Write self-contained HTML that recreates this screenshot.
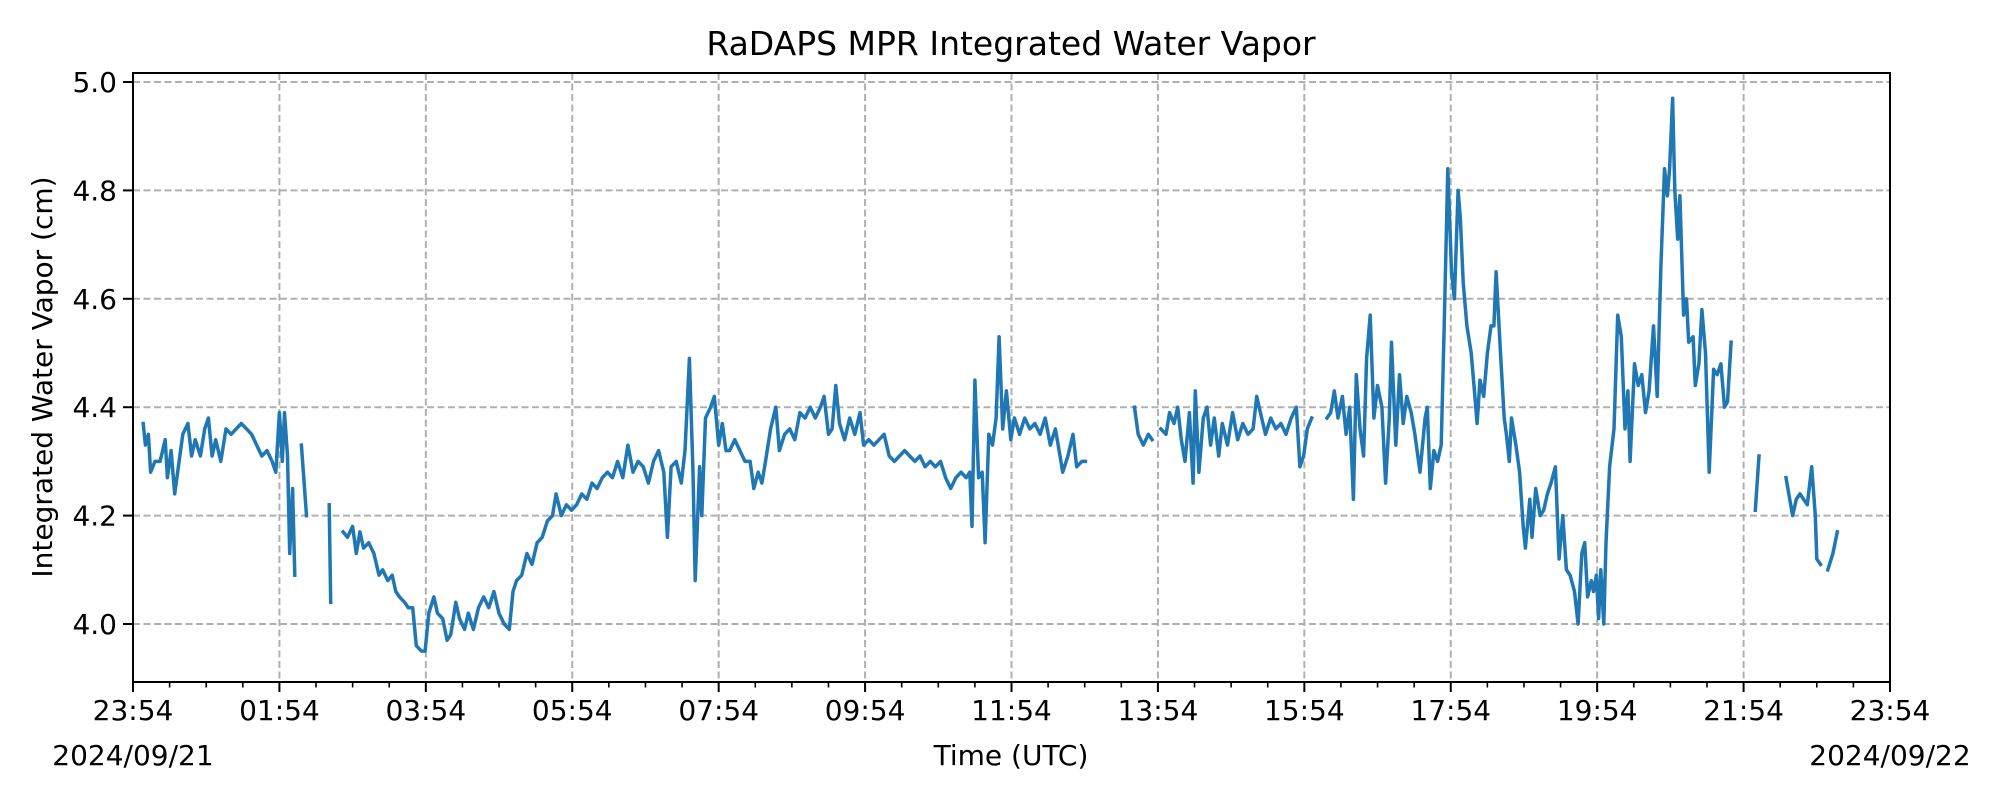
<!DOCTYPE html>
<html><head><meta charset="utf-8">
<style>
html,body{margin:0;padding:0;background:#fff;}
svg{display:block;font-family:"DejaVu Sans","Liberation Sans",sans-serif;}
</style></head>
<body>
<svg id="chart" width="2000" height="800" viewBox="0 0 2000 800" xmlns="http://www.w3.org/2000/svg">
<rect width="2000" height="800" fill="#fff"/>
<text x="1011" y="55" font-size="33" text-anchor="middle">RaDAPS MPR Integrated Water Vapor</text>
<g id="grid"></g>
<g id="series"></g>
<rect x="133" y="73" width="1757" height="609" fill="none" stroke="#000" stroke-width="2"/>
<g id="axes"></g>
<text x="1011" y="765" font-size="28" text-anchor="middle">Time (UTC)</text>
<text x="133" y="765" font-size="28" text-anchor="middle">2024/09/21</text>
<text x="1890" y="765" font-size="28" text-anchor="middle">2024/09/22</text>
<text transform="translate(52,377) rotate(-90)" font-size="28" text-anchor="middle">Integrated Water Vapor (cm)</text>
</svg>
<script>
const xTickLabels = ["23:54","01:54","03:54","05:54","07:54","09:54","11:54","13:54","15:54","17:54","19:54","21:54","23:54"];
const yTicks = [4.0,4.2,4.4,4.6,4.8,5.0];
const yTickLabels = ["4.0","4.2","4.4","4.6","4.8","5.0"];
// hours since 23:54, null = gap
const times = [0.14,0.17,0.21,0.24,0.30,0.37,0.44,0.47,0.52,0.57,0.63,0.68,0.75,0.80,0.85,0.92,0.98,1.03,1.08,1.13,1.20,1.27,1.34,1.41,1.48,1.55,1.62,1.69,1.76,1.83,1.90,1.95,2.00,2.04,2.07,2.11,2.14,2.18,2.21,null,
2.30,2.37,null,2.68,2.70,null,
2.87,2.93,3.00,3.05,3.10,3.15,3.22,3.29,3.36,3.41,3.48,3.54,3.59,3.64,3.71,3.76,3.82,3.87,3.94,3.99,4.04,4.11,4.16,4.23,4.29,4.34,4.41,4.46,4.53,4.58,4.65,4.72,4.79,4.86,4.93,5.00,5.07,5.14,5.19,5.24,5.31,5.38,5.45,5.52,5.59,5.66,5.73,5.78,5.85,5.92,5.99,6.06,6.13,6.20,6.27,6.34,6.41,6.48,6.55,6.62,6.69,6.76,6.83,6.90,6.97,7.04,7.11,7.18,7.25,7.30,7.35,7.42,7.49,7.54,7.60,7.65,7.68,7.74,7.77,7.82,7.89,7.94,8.00,8.05,8.10,8.15,8.22,8.29,8.36,8.43,8.48,8.54,8.59,8.64,8.71,8.78,8.83,8.90,8.97,9.04,9.11,9.18,9.25,9.32,9.39,9.44,9.50,9.55,9.60,9.65,9.72,9.79,9.86,9.93,9.98,10.05,10.12,10.19,10.26,10.33,10.40,10.47,10.54,10.61,10.68,10.75,10.82,10.89,10.96,11.03,11.10,11.17,11.24,11.31,11.38,11.43,11.46,11.50,11.55,11.60,11.64,11.69,11.74,11.79,11.83,11.88,11.93,11.99,12.04,12.11,12.18,12.25,12.32,12.39,12.46,12.53,12.60,12.65,12.70,12.77,12.84,12.89,12.96,13.01,null,
13.68,13.73,13.80,13.87,13.92,null,
14.04,14.11,14.16,14.22,14.27,14.32,14.37,14.43,14.48,14.51,14.56,14.62,14.67,14.72,14.77,14.83,14.88,14.95,15.02,15.09,15.16,15.23,15.30,15.35,15.40,15.47,15.54,15.61,15.68,15.75,15.82,15.89,15.94,15.99,16.04,16.10,null,
16.31,16.36,16.41,16.46,16.52,16.57,16.62,16.67,16.71,16.76,16.81,16.85,16.90,16.95,17.00,17.06,17.11,17.16,17.19,17.25,17.30,17.35,17.40,17.46,17.51,17.58,17.65,17.68,17.72,17.77,17.82,17.87,17.91,17.96,18.01,18.05,18.10,18.13,18.17,18.22,18.28,18.33,18.36,18.40,18.45,18.50,18.55,18.59,18.62,18.68,18.73,18.76,18.80,18.83,18.89,18.94,18.99,19.02,19.08,19.11,19.16,19.22,19.27,19.32,19.37,19.43,19.48,19.53,19.58,19.63,19.69,19.74,19.79,19.83,19.87,19.92,19.95,19.99,20.02,20.05,20.09,20.12,20.17,20.23,20.28,20.33,20.38,20.42,20.45,20.51,20.56,20.61,20.66,20.71,20.77,20.82,20.87,20.92,20.96,20.99,21.03,21.06,21.10,21.13,21.18,21.22,21.25,21.31,21.34,21.39,21.43,21.48,21.53,21.59,21.64,21.69,21.74,21.78,21.83,null,
22.16,22.21,null,
22.58,22.67,22.72,22.77,22.82,22.87,22.93,22.98,23.00,23.05,null,
23.15,23.22,23.28];
const values = [4.37,4.33,4.35,4.28,4.30,4.30,4.34,4.27,4.32,4.24,4.30,4.35,4.37,4.31,4.34,4.31,4.36,4.38,4.31,4.34,4.30,4.36,4.35,4.36,4.37,4.36,4.35,4.33,4.31,4.32,4.30,4.28,4.39,4.30,4.39,4.31,4.13,4.25,4.09,null,
4.33,4.20,null,4.22,4.04,null,
4.17,4.16,4.18,4.13,4.17,4.14,4.15,4.13,4.09,4.10,4.08,4.09,4.06,4.05,4.04,4.03,4.03,3.96,3.95,3.95,4.02,4.05,4.02,4.01,3.97,3.98,4.04,4.01,3.99,4.02,3.99,4.03,4.05,4.03,4.06,4.02,4.00,3.99,4.06,4.08,4.09,4.13,4.11,4.15,4.16,4.19,4.20,4.24,4.20,4.22,4.21,4.22,4.24,4.23,4.26,4.25,4.27,4.28,4.27,4.30,4.27,4.33,4.28,4.30,4.29,4.26,4.30,4.32,4.28,4.16,4.29,4.30,4.26,4.32,4.49,4.28,4.08,4.29,4.20,4.38,4.40,4.42,4.33,4.37,4.32,4.32,4.34,4.32,4.30,4.30,4.25,4.28,4.26,4.30,4.36,4.40,4.32,4.35,4.36,4.34,4.39,4.38,4.40,4.38,4.40,4.42,4.35,4.36,4.44,4.37,4.34,4.38,4.35,4.39,4.33,4.34,4.33,4.34,4.35,4.31,4.30,4.31,4.32,4.31,4.30,4.31,4.29,4.30,4.29,4.30,4.27,4.25,4.27,4.28,4.27,4.28,4.18,4.45,4.27,4.28,4.15,4.35,4.33,4.38,4.53,4.36,4.43,4.34,4.38,4.35,4.38,4.36,4.37,4.35,4.38,4.33,4.36,4.32,4.28,4.31,4.35,4.29,4.30,4.30,null,
4.40,4.35,4.33,4.35,4.34,null,
4.36,4.35,4.39,4.37,4.40,4.34,4.30,4.39,4.26,4.43,4.28,4.38,4.40,4.33,4.38,4.31,4.37,4.33,4.39,4.34,4.37,4.35,4.36,4.42,4.39,4.35,4.38,4.36,4.37,4.35,4.38,4.40,4.29,4.31,4.36,4.38,null,
4.38,4.39,4.43,4.38,4.42,4.35,4.40,4.23,4.46,4.36,4.31,4.49,4.57,4.38,4.44,4.40,4.26,4.38,4.52,4.33,4.46,4.37,4.42,4.39,4.35,4.28,4.38,4.40,4.25,4.32,4.30,4.33,4.55,4.84,4.65,4.60,4.80,4.75,4.63,4.55,4.50,4.42,4.37,4.45,4.42,4.50,4.55,4.55,4.65,4.50,4.38,4.35,4.30,4.38,4.33,4.28,4.18,4.14,4.23,4.16,4.25,4.20,4.21,4.24,4.26,4.29,4.12,4.20,4.10,4.09,4.06,4.00,4.13,4.15,4.05,4.08,4.06,4.09,4.01,4.10,4.00,4.15,4.29,4.36,4.57,4.53,4.36,4.43,4.30,4.48,4.44,4.46,4.39,4.43,4.55,4.42,4.66,4.84,4.79,4.84,4.97,4.80,4.71,4.79,4.57,4.60,4.52,4.53,4.44,4.48,4.58,4.50,4.28,4.47,4.46,4.48,4.40,4.41,4.52,null,
4.21,4.31,null,
4.27,4.20,4.23,4.24,4.23,4.22,4.29,4.20,4.12,4.11,null,
4.10,4.13,4.17];

const X0=133, X1=1890, Y0=682, Y1=73, YMIN=3.893, YMAX=5.0166, HRS=24;
const xs = h => X0 + (h/HRS)*(X1-X0);
const ys = v => Y0 - (v-YMIN)/(YMAX-YMIN)*(Y0-Y1);
const NS="http://www.w3.org/2000/svg";
const grid=document.getElementById('grid'), axes=document.getElementById('axes'), series=document.getElementById('series');
function mk(tag, attrs, parent){const e=document.createElementNS(NS,tag);for(const k in attrs)e.setAttribute(k,attrs[k]);parent.appendChild(e);return e;}

xTickLabels.forEach((lab,i)=>{
  const x=xs(i*2);
  if(i>0&&i<xTickLabels.length-1){
    const g=mk('line',{x1:x,x2:x,y1:Y1,y2:Y0,stroke:'#b0b0b0','stroke-width':2,'stroke-dasharray':'7,3.5'},grid);
    
    
  }
  const t=mk('line',{x1:x,x2:x,y1:Y0,y2:Y0+10,stroke:'#000','stroke-width':2},axes);
  
  
  const tx=mk('text',{x:x,y:Y0+38,'font-size':28,'text-anchor':'middle'},axes);
  tx.textContent=lab;
  
  
  if(i<xTickLabels.length-1){
    for(let m=1;m<4;m++){
      const mx=xs(i*2+m*0.5);
      const mt=mk('line',{x1:mx,x2:mx,y1:Y0,y2:Y0+5.5,stroke:'#000','stroke-width':1.6},axes);
      
      
    }
  }
});
yTicks.forEach((v,i)=>{
  const y=ys(v);
  const g=mk('line',{x1:X0,x2:X1,y1:y,y2:y,stroke:'#b0b0b0','stroke-width':2,'stroke-dasharray':'7,3.5'},grid);
  
  
  const t=mk('line',{x1:X0-10,x2:X0,y1:y,y2:y,stroke:'#000','stroke-width':2},axes);
  
  
  const tx=mk('text',{x:X0-16,y:y+10,'font-size':28,'text-anchor':'end'},axes);
  tx.textContent=yTickLabels[i];
  
  
});
let d='', pen=false;
for(let i=0;i<times.length;i++){
  if(times[i]===null||values[i]===null){pen=false;continue;}
  d+=(pen?'L':'M')+xs(times[i]).toFixed(1)+','+ys(values[i]).toFixed(1);
  pen=true;
}
const p=mk('path',{d:d,fill:'none',stroke:'#1f77b4','stroke-width':3.5,'stroke-linejoin':'round','stroke-linecap':'square'},series);


</script>
</body></html>
